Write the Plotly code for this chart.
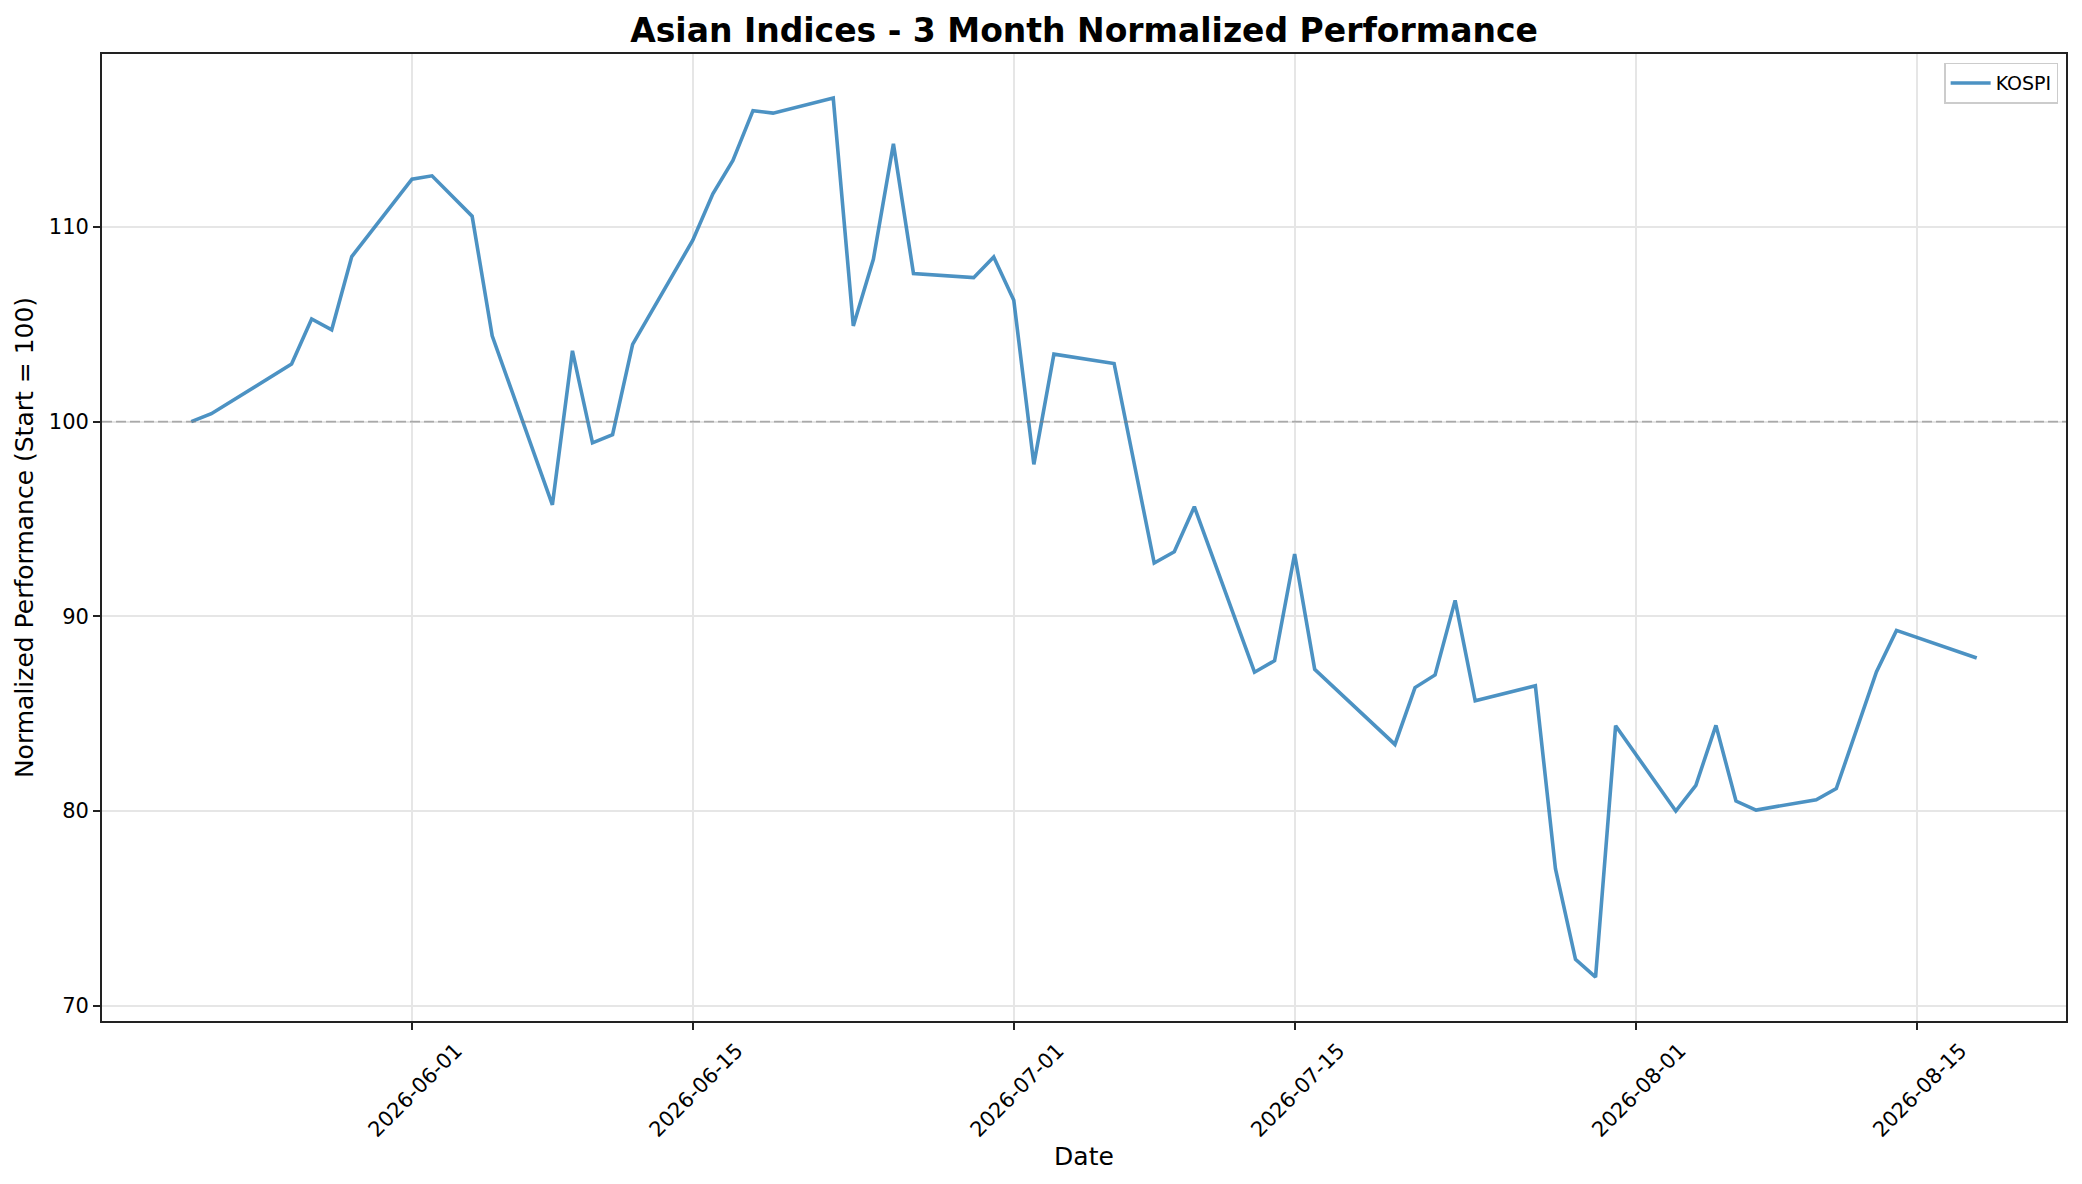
import pandas as pd
import plotly.graph_objects as go

# KOSPI, normalized so that the first close = 100
dates = ["2026-05-21", "2026-05-22", "2026-05-26", "2026-05-27", "2026-05-28", "2026-05-29",
         "2026-06-01", "2026-06-02", "2026-06-04", "2026-06-05", "2026-06-08", "2026-06-09",
         "2026-06-10", "2026-06-11", "2026-06-12", "2026-06-15", "2026-06-16", "2026-06-17",
         "2026-06-18", "2026-06-19", "2026-06-22", "2026-06-23", "2026-06-24", "2026-06-25",
         "2026-06-26", "2026-06-29", "2026-06-30", "2026-07-01", "2026-07-02", "2026-07-03",
         "2026-07-06", "2026-07-08", "2026-07-09", "2026-07-10", "2026-07-13", "2026-07-14",
         "2026-07-15", "2026-07-16", "2026-07-20", "2026-07-21", "2026-07-22", "2026-07-23",
         "2026-07-24", "2026-07-27", "2026-07-28", "2026-07-29", "2026-07-30", "2026-07-31",
         "2026-08-03", "2026-08-04", "2026-08-05", "2026-08-06", "2026-08-07", "2026-08-10",
         "2026-08-11", "2026-08-13", "2026-08-14", "2026-08-18"]
kospi = [100.0, 100.41, 102.96, 105.28, 104.72, 108.48,
         112.46, 112.63, 110.56, 104.41, 95.73, 103.64,
         98.91, 99.33, 103.97, 109.32, 111.71, 113.42,
         115.98, 115.85, 116.63, 104.92, 108.34, 114.27,
         107.61, 107.40, 108.46, 106.24, 97.81, 103.47,
         102.99, 92.74, 93.32, 95.63, 87.13, 87.72,
         93.20, 87.28, 83.42, 86.34, 86.99, 90.82,
         85.66, 86.43, 77.04, 72.38, 71.47, 84.38,
         80.0, 81.32, 84.40, 80.51, 80.05, 80.58,
         81.15, 87.14, 89.28, 87.86]

x_ticks = ["2026-06-01", "2026-06-15", "2026-07-01", "2026-07-15", "2026-08-01", "2026-08-15"]
y_ticks = [70, 80, 90, 100, 110]

dt = pd.to_datetime(dates)
# 5% padding like matplotlib's default margins
xspan = dt.max() - dt.min()
xrange = [dt.min() - 0.05 * xspan, dt.max() + 0.05 * xspan]
yspan = max(kospi) - min(kospi)
yrange = [min(kospi) - 0.05 * yspan, max(kospi) + 0.05 * yspan]

font = "DejaVu Sans"

line = go.Scatter(x=dt, y=kospi, mode="lines", name="KOSPI",
                  line=dict(color="rgba(31,119,180,0.8)", width=3.6))

fig = go.Figure(data=[line])

fig.add_hline(y=100, line=dict(color="rgba(128,128,128,0.6)", width=1.8, dash="10px,4px"))

# page body has an 8px margin, so the figure is a bit smaller than the window
W, H = 2074, 1176
L, R, T, B = 94, 16, 46, 163

fig.update_layout(
    width=W, height=H,
    paper_bgcolor="white", plot_bgcolor="white",
    margin=dict(l=L, r=R, t=T, b=B),
    font=dict(family=font, color="black", size=21),
    title=dict(text="<b>Asian Indices - 3 Month Normalized Performance</b>",
               x=(L + (W - R)) / 2 / W, xanchor="center",
               y=1 - 22 / H, yanchor="middle",
               font=dict(family=font, size=33, color="black")),
    showlegend=True,
    legend=dict(x=0.996, y=0.991, xanchor="right", yanchor="top",
                bgcolor="rgba(255,255,255,0.8)", bordercolor="#cccccc", borderwidth=1.5,
                font=dict(family=font, size=19), itemwidth=40),
)

fig.update_xaxes(
    range=xrange, type="date",
    tickvals=pd.to_datetime(x_ticks), ticktext=x_ticks,
    tickangle=-45, ticklabelshift=44,
    ticks="outside", ticklen=7, tickwidth=1.7, tickcolor="#222",
    showline=True, linecolor="#222", linewidth=1.7, mirror=True,
    showgrid=True, gridcolor="#e6e6e6", gridwidth=1.6,
    zeroline=False,
    title=dict(text="Date", font=dict(size=25), standoff=5),
)
fig.update_yaxes(
    range=yrange, tickvals=y_ticks,
    ticks="outside", ticklen=7, tickwidth=1.7, tickcolor="#222",
    showline=True, linecolor="#222", linewidth=1.7, mirror=True,
    showgrid=True, gridcolor="#e6e6e6", gridwidth=1.6,
    zeroline=False,
    title=dict(text="Normalized Performance (Start = 100)", font=dict(size=25), standoff=8),
)

fig.write_html("out.html", config={"displayModeBar": False})
